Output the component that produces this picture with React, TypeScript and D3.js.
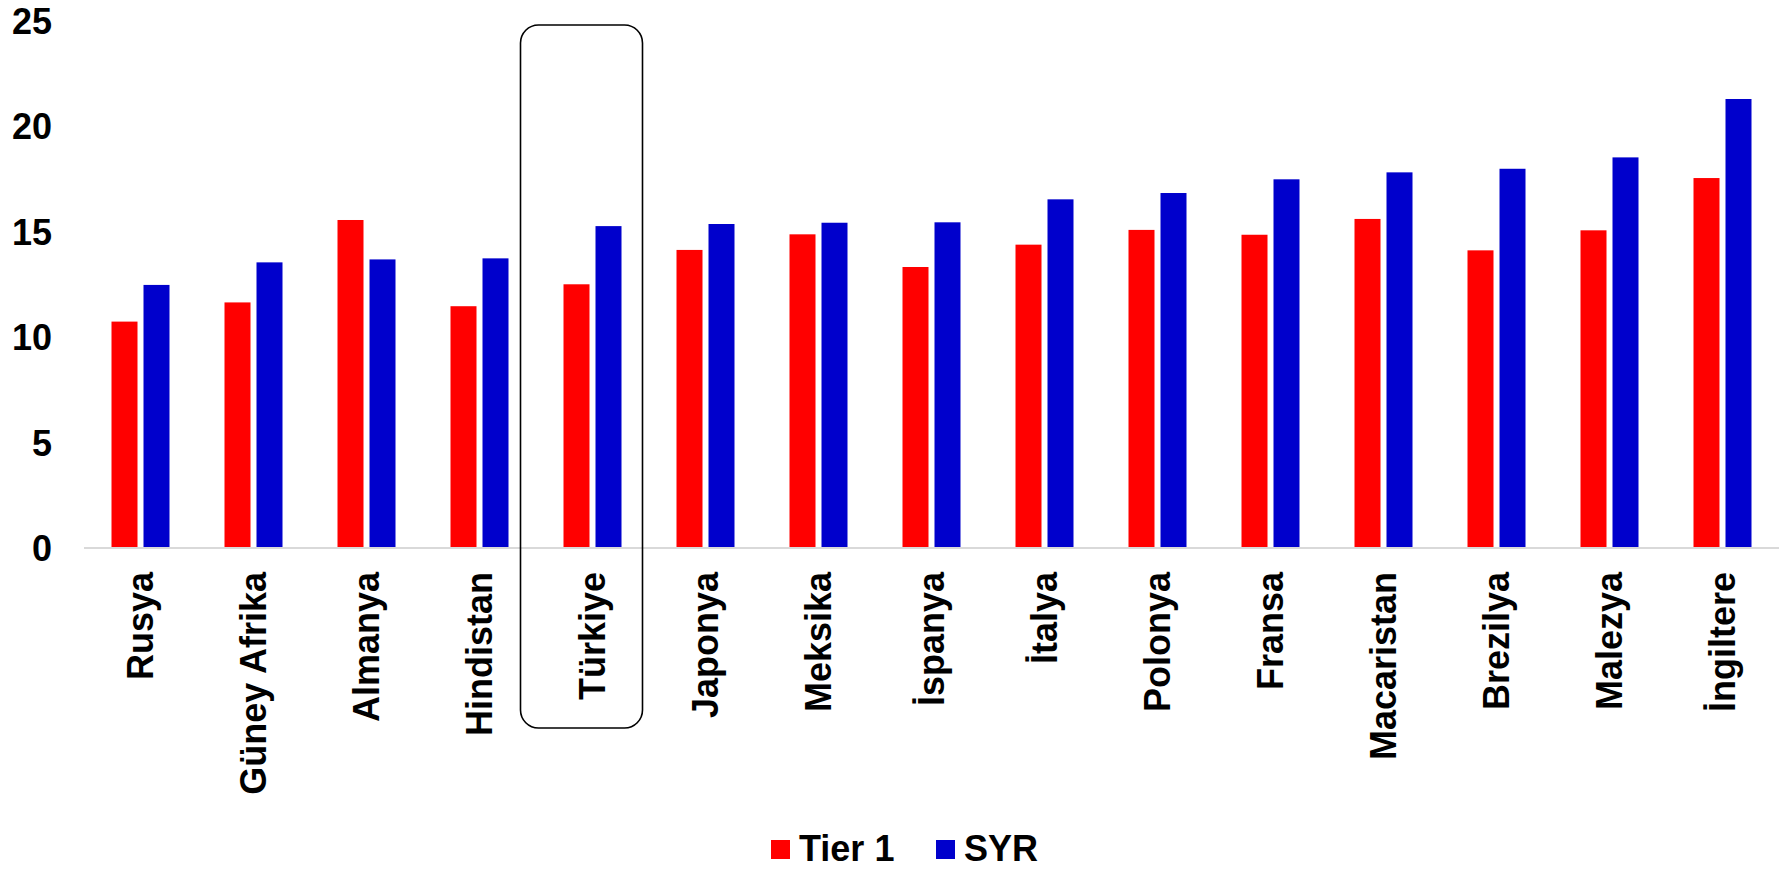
import React from "react";
import * as d3 from "d3";

const categories = [
  "Rusya", "Güney Afrika", "Almanya", "Hindistan", "Türkiye", "Japonya", "Meksika",
  "İspanya", "İtalya", "Polonya", "Fransa", "Macaristan", "Brezilya", "Malezya", "İngiltere",
];
const tier1 = [10.74, 11.65, 15.56, 11.47, 12.51, 14.14, 14.88, 13.33, 14.39, 15.09, 14.86, 15.61, 14.12, 15.07, 17.55];
const syr = [12.48, 13.55, 13.69, 13.74, 15.27, 15.37, 15.43, 15.45, 16.54, 16.84, 17.49, 17.82, 17.99, 18.53, 21.3];
const seriesNames = ["Tier 1", "SYR"];
const seriesColors = ["#ff0000", "#0000cc"];
const yTicks = [0, 5, 10, 15, 20, 25];
const highlighted = "Türkiye";

const W = 1779;
const H = 869;
const FONT = "'Liberation Sans', Arial, sans-serif";

export default function App() {
  const x = d3.scaleBand<string>().domain(categories).range([84, 1779]).padding(0);
  const sub = d3
    .scaleBand<string>()
    .domain(seriesNames)
    .range([(x.bandwidth() - 58) / 2, (x.bandwidth() + 58) / 2])
    .paddingInner(0.1875);
  const y = d3.scaleLinear().domain([0, 25]).range([548, 21]);
  const values = [tier1, syr];

  const hx = x(highlighted)!;

  return (
    <div>
      <style>{`body{margin:0}`}</style>
      <svg width={W} height={H} style={{ display: "block", background: "#fff" }} fontFamily={FONT}>
        {/* y tick labels */}
        {yTicks.map((t) => (
          <text key={t} x={52} y={y(t)} dy="0.36em" textAnchor="end" fontSize={36} fontWeight="bold" fill="#000">
            {t}
          </text>
        ))}
        {/* bars */}
        {categories.map((c, i) => (
          <g key={c} transform={`translate(${x(c)},0)`}>
            {seriesNames.map((s, k) => (
              <rect
                key={s}
                x={sub(s)}
                y={y(values[k][i])}
                width={sub.bandwidth()}
                height={y(0) - y(values[k][i])}
                fill={seriesColors[k]}
              />
            ))}
          </g>
        ))}
        {/* axis line */}
        <line x1={84} x2={1779} y1={y(0)} y2={y(0)} stroke="#d9d9d9" strokeWidth={2} />
        {/* category labels */}
        {categories.map((c) => (
          <text
            key={c}
            transform={`translate(${x(c)! + x.bandwidth() / 2},572) rotate(-90)`}
            dy="0.35em"
            textAnchor="end"
            fontSize={36}
            fontWeight="bold"
            fill="#000"
          >
            {c}
          </text>
        ))}
        {/* highlight box */}
        <rect
          x={hx + x.bandwidth() / 2 - 72}
          y={25}
          width={122}
          height={703}
          rx={18}
          ry={18}
          fill="none"
          stroke="#000"
          strokeWidth={1.6}
        />
        {/* legend */}
        <g>
          <rect x={771} y={840} width={19} height={19} fill={seriesColors[0]} />
          <text x={799} y={861} fontSize={36} fontWeight="bold" fill="#000">{seriesNames[0]}</text>
          <rect x={936} y={840} width={19} height={19} fill={seriesColors[1]} />
          <text x={964} y={861} fontSize={36} fontWeight="bold" fill="#000">{seriesNames[1]}</text>
        </g>
      </svg>
    </div>
  );
}
